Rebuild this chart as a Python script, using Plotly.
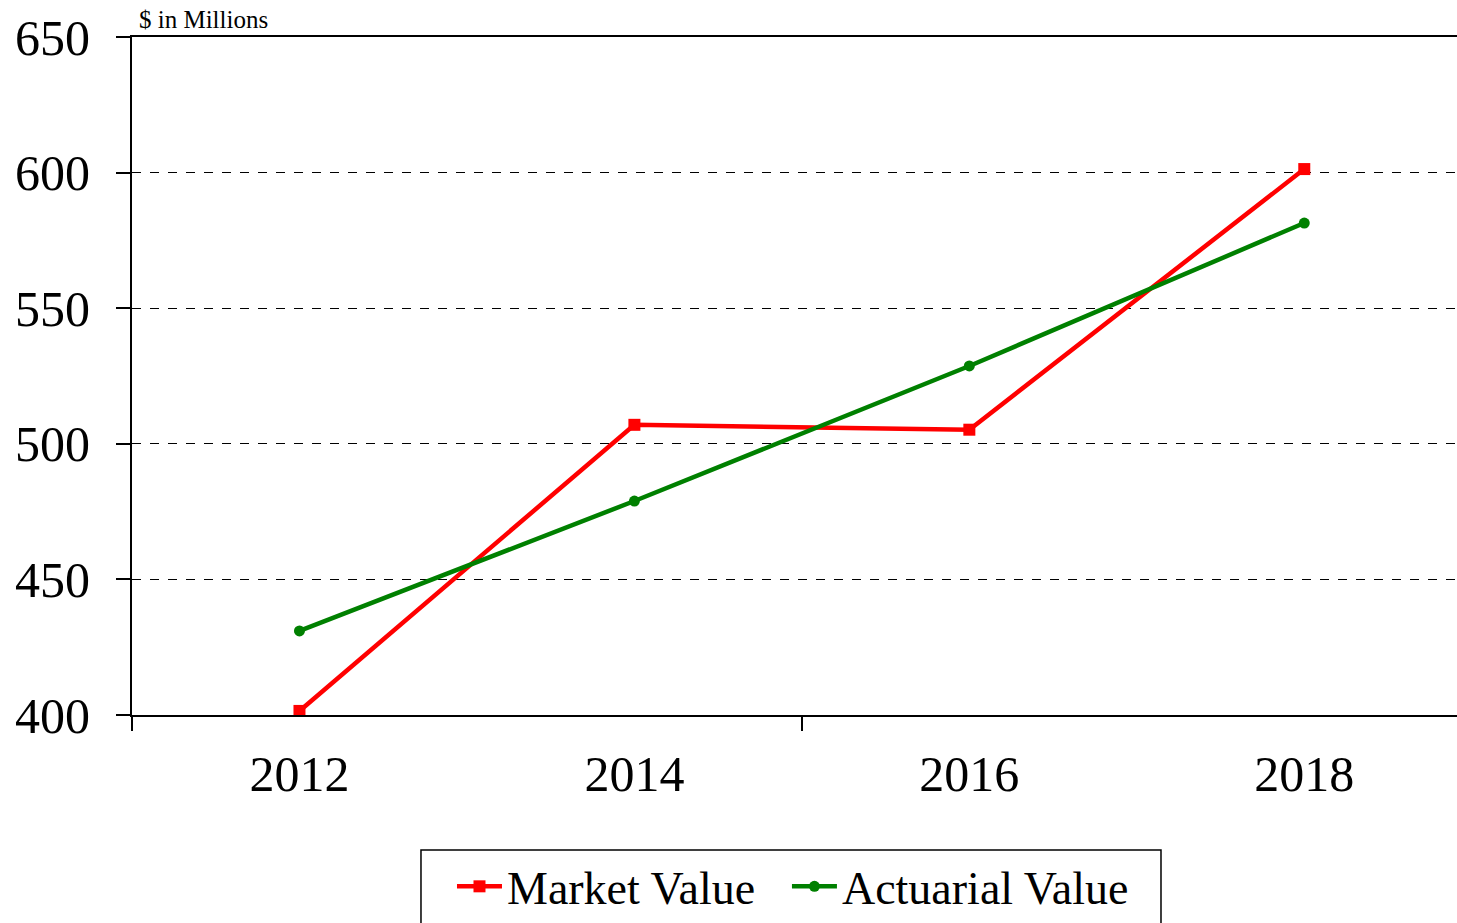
import plotly.graph_objects as go

years = ["2012", "2014", "2016", "2018"]
market_value = [401.5, 507.0, 505.2, 601.3]
actuarial_value = [431.0, 478.9, 528.7, 581.4]
y_ticks = [400, 450, 500, 550, 600, 650]

x_idx = list(range(len(years)))

fig = go.Figure()
fig.add_trace(go.Scatter(
    x=x_idx, y=market_value, name="Market Value", mode="lines+markers",
    line=dict(color="#ff0000", width=4.5),
    marker=dict(symbol="square", size=12, color="#ff0000"),
    legend="legend",
))
fig.add_trace(go.Scatter(
    x=x_idx, y=actuarial_value, name="Actuarial Value", mode="lines+markers",
    line=dict(color="#008000", width=4.5),
    marker=dict(symbol="circle", size=11, color="#008000"),
    legend="legend2",
))

font_family = "Liberation Serif, Times New Roman, serif"
legend_style = dict(
    orientation="h", yanchor="top", y=-0.199, xanchor="left",
    font=dict(size=46, family=font_family, color="black"),
    borderwidth=0, bgcolor="rgba(0,0,0,0)", itemwidth=45,
)

fig.update_layout(
    width=1457, height=923,
    margin=dict(l=132, r=0, t=37, b=208),
    plot_bgcolor="white", paper_bgcolor="white",
    font=dict(family=font_family, color="black"),
    showlegend=True,
    legend=dict(legend_style, x=0.2415),
    legend2=dict(legend_style, x=0.4943),
    xaxis=dict(
        range=[-0.5, 3.456], tickmode="array", tickvals=x_idx, ticktext=years,
        ticks="", showgrid=False, zeroline=False,
        showline=True, linecolor="black", linewidth=2, mirror=True,
        tickfont=dict(size=50, family=font_family, color="black"),
        ticklabelstandoff=14,
        minor=dict(tickmode="array", tickvals=[-0.5, 1.5, 3.5], ticks="outside",
                   ticklen=14, tickwidth=2, tickcolor="black", showgrid=False),
    ),
    yaxis=dict(
        range=[400, 650], tickmode="array", tickvals=y_ticks,
        ticks="outside", ticklen=14, tickwidth=2, tickcolor="black",
        showline=True, linecolor="black", linewidth=2,
        showgrid=True, gridcolor="black", gridwidth=1, griddash="dash",
        zeroline=False,
        tickfont=dict(size=50, family=font_family, color="black"),
        ticklabelstandoff=16,
    ),
    shapes=[dict(
        type="rect", xref="paper", yref="paper",
        x0=0.2181, x1=0.7766, y0=-0.1991, y1=-0.40,
        line=dict(color="black", width=1.5), fillcolor="rgba(0,0,0,0)",
        layer="below",
    )],
    annotations=[dict(
        text="$ in Millions", xref="paper", yref="paper", x=0.004, y=1.0,
        xanchor="left", yanchor="bottom", showarrow=False, yshift=2,
        font=dict(size=25, family=font_family, color="black"),
    )],
)

fig.write_html("out.html", config={"displayModeBar": False},
               post_script="document.body.style.margin='0';document.body.style.overflow='hidden';")
